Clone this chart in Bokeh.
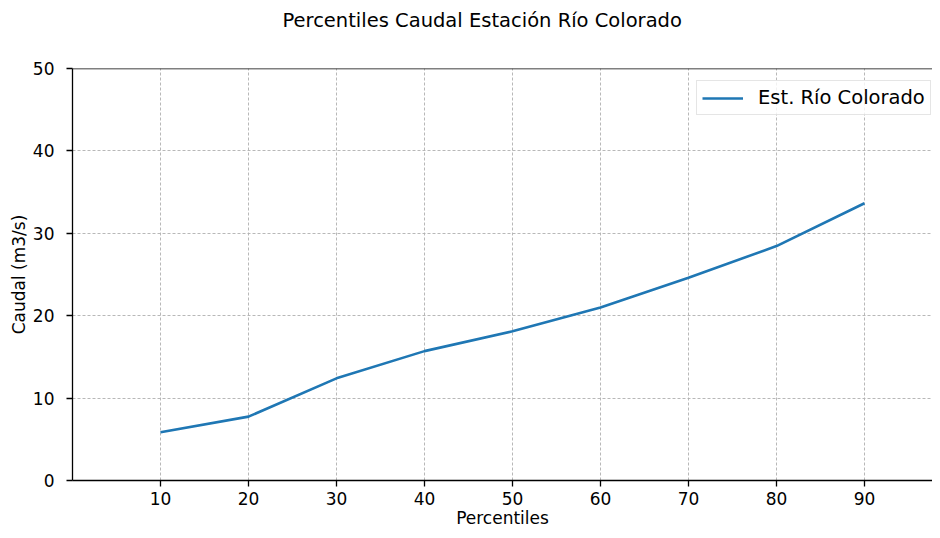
from bokeh.plotting import figure
from bokeh.models import Range1d, FixedTicker, Span, Legend, LegendItem, Title
from bokeh.embed import file_html
from bokeh.resources import INLINE

percentiles = [10, 20, 30, 40, 50, 60, 70, 80, 90]
caudal = [5.85, 7.75, 12.4, 15.7, 18.1, 21.0, 24.6, 28.45, 33.65]
x_ticks = [10, 20, 30, 40, 50, 60, 70, 80, 90]
y_ticks = [0, 10, 20, 30, 40, 50]

FONT = "DejaVu Sans"

p = figure(width=932, height=530, output_backend="svg", toolbar_location=None,
           x_range=Range1d(0, 97.73), y_range=Range1d(0, 50),
           min_border_left=72, min_border_right=0, min_border_top=68,
           min_border_bottom=50)
p.title = None
spacer = Title(text=" ", text_font_size="1px", standoff=32)
p.add_layout(spacer, "above")
t = Title(text="Percentiles Caudal Estación Río Colorado", align="left",
          vertical_align="top", offset=210,
          text_font=FONT, text_font_size="19.5px", text_font_style="normal",
          text_color="black", standoff=0)
p.add_layout(t, "above")

p.outline_line_color = None
p.background_fill_color = "white"
p.border_fill_color = "white"

r = p.line(percentiles, caudal, line_color="#1f77b4", line_width=2.6)

top = Span(location=50, dimension="width", line_color="black", line_width=1.3)
p.add_layout(top)

for ax in (p.xaxis[0], p.yaxis[0]):
    ax.axis_line_color = "black"
    ax.axis_line_width = 1.3
    ax.major_tick_line_color = "black"
    ax.major_tick_line_width = 1.3
    ax.major_tick_in = 0
    ax.major_tick_out = 6
    ax.minor_tick_line_color = None
    ax.major_label_text_font = FONT
    ax.major_label_text_font_size = "17px"
    ax.major_label_text_color = "black"
    ax.axis_label_text_font = FONT
    ax.axis_label_text_font_size = "17px"
    ax.axis_label_text_font_style = "normal"
    ax.axis_label_text_color = "black"

p.xaxis.ticker = FixedTicker(ticks=x_ticks)
p.yaxis.ticker = FixedTicker(ticks=y_ticks)
p.xaxis.axis_label = "Percentiles"
p.yaxis.axis_label = "Caudal (m3/s)"
p.xaxis.major_label_standoff = 5
p.xaxis.axis_label_standoff = 0
p.yaxis.major_label_standoff = 12
p.yaxis.axis_label_standoff = 1

p.xgrid.ticker = FixedTicker(ticks=x_ticks)
p.ygrid.ticker = FixedTicker(ticks=[10, 20, 30, 40])
for g in (p.xgrid[0], p.ygrid[0]):
    g.grid_line_color = "#b0b0b0"
    g.grid_line_dash = "3 2"
    g.grid_line_width = 0.9

legend = Legend(items=[LegendItem(label="Est. Río Colorado", renderers=[r])],
                location=(624, 365))
legend.label_text_font = FONT
legend.label_text_font_size = "19.5px"
legend.label_text_color = "black"
legend.glyph_width = 41
legend.label_standoff = 15
legend.padding = 5
legend.margin = 0
legend.border_line_color = "#cccccc"
legend.border_line_width = 1
legend.background_fill_color = "white"
legend.background_fill_alpha = 0.8
p.add_layout(legend)

open("out.html", "w").write(file_html(p, INLINE))
